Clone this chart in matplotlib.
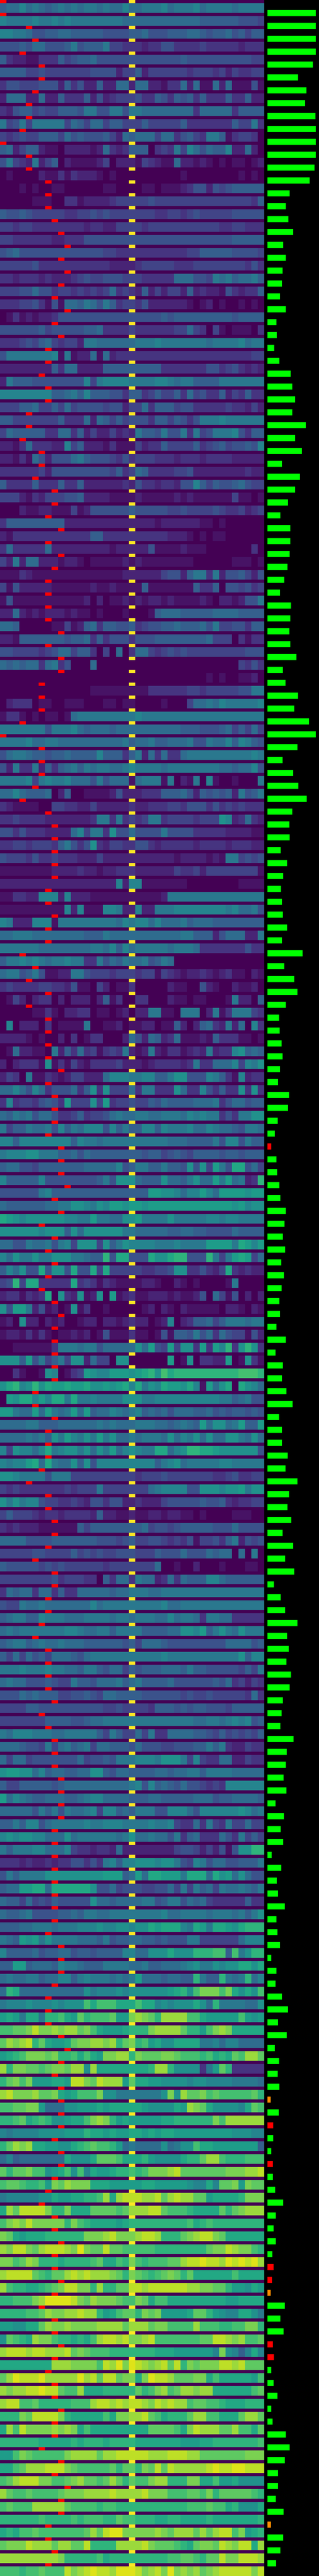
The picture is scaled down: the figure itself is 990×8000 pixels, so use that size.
import numpy as np
import matplotlib
matplotlib.use("Agg")
import matplotlib.pyplot as plt
from matplotlib.colors import ListedColormap

# one character per cell, base 36, level / 20 gives the 0..1 viridis value
heat_rows = [
    "6779787678 7878878779 7788897888 9788887888 8",
    "9888898898 9888888887 7777777777 7666666555 4",
    "9988755667 7666665555 6675556667 7656675646 6",
    "5556577555 6856668443 3323355333 3433333233 3",
    "6322113336 4566755555 5555555565 5555555554 4",
    "6666445444 4444555524 4624444443 4443424334 4",
    "3554445552 6352262277 2772213372 7117271115 1",
    "2777227226 3336252344 4533653656 3633363362 2",
    "3256645446 6658855885 8877777777 3777773666 6",
    "8458488888 4764774664 4464444463 3333336448 3",
    "4345446664 7565556427 6777477356 4388613443 0",
    "6724662110 2222127323 6660343849 7576692272 0",
    "5843282460 2111124022 2143211722 1210101101 2",
    "0100002113 1322210100 0000000010 0000000101 0",
    "0001010011 0000001100 0011011123 5525456666 6",
    "0000011100 3312222344 4445444444 4444444443 6",
    "6556544444 3344545444 4444334434 5444445555 5",
    "4434433333 3332332244 4434444444 4444334433 3",
    "4433333322 3335555555 5555555555 5555556666 6",
    "5675555555 5555554433 3333333334 4666665555 4",
    "4444453333 3333333222 2344444333 4444444435 3",
    "3323332322 2345445554 4433333777 5548786778 6",
    "4445575534 4343434734 3262424426 2322153233 6",
    "3334453151 7768758634 4352222221 0120100101 0",
    "0131212235 5555555555 5555565666 6666665666 6",
    "5555556455 5556673333 4333333447 4304101110 3",
    "3334546743 4428877777 7888988888 8878888978 8",
    "5888888891 8122717233 3333333333 3333333334 4",
    "2222222263 7722226666 6666633333 3355345323 2",
    "2866655555 5559489999 8888998788 6666888888 8",
    "9999999966 7869666553 6634644637 4533624363 3",
    "4446674464 7455554552 4473666455 3333343324 2",
    "6644444446 3337276464 5553664653 5888988888 8",
    "4766666337 7362422423 2866585583 8458889536 6",
    "2213733322 9462221311 1423364444 6345645565 9",
    "2213175255 5786555435 3444333233 3233332222 2",
    "3333334255 5555555463 4763333445 2222222232 2",
    "6333363336 3362222223 2533233255 9646556754 4",
    "4442132444 5562222111 1211111212 1111114110 1",
    "0002112211 1412555555 6555554454 4445433423 4",
    "3666666666 2222222222 2222122222 2110100000 0",
    "2133333333 3333663333 3333332221 0101100000 0",
    "3733333722 2222222122 2225111121 1100000003 0",
    "4282772221 2210111112 1211111111 0000001110 1",
    "1113211111 1111111112 2222245526 8838255642 5",
    "4152222211 1111211211 1161111111 6336055453 4",
    "1511111111 1112020112 1212212111 1210221255 8",
    "2272121222 1211010001 0001677766 6667777666 6",
    "7760000011 4126736655 6345566766 6758445536 6",
    "2216666666 5667363555 3555666666 6674440313 3",
    "5544443457 7466304070 3774345454 4444444455 5",
    "7676773783 5000700000 0000000000 0000000435 3",
    "0000000000 0000000000 0000000000 0010100112 0",
    "0000000000 0000111111 1113333334 4344444558 8",
    "0233301100 1110001101 1000010004 7787988888 9",
    "1331010110 1788888888 8988888888 8888888888 8",
    "8888888588 8976777677 7777777766 6555674647 4",
    "8888977887 7777777778 6778667778 5587796986 5",
    "5788766566 7666696663 6827373378 8888888889 8",
    "5283382636 7868788778 9888878888 8888776779 5",
    "8888948988 9777585777 1788818021 8091001000 8",
    "7797666702 6001111252 2233366675 2656562856 8",
    "3211110044 3322422222 3223334435 5535343433 3",
    "3343333222 2222388383 4348834444 3444a92373 2",
    "5535333222 2794883a55 7555585555 3333322221 1",
    "3344344436 8535a32443 3553233333 2333323332 2",
    "5444353343 3322242222 2222222122 2212188454 5",
    "1111111122 2232212233 3222222433 4244444444 1",
    "2222222222 2222222292 9911111110 0000000111 1",
    "1133229992 9222111111 1111128888 8888888888 8",
    "1111111111 9291119982 2922888999 9999989778 5",
    "9822299918 8888888879 8997977786 7776666666 6",
    "7788877777 7776668777 7777777788 6662577722 8",
    "8888887777 7777887969 7888887888 7333333353 3",
    "6889898788 9883385768 7785687000 0000000000 0",
    "7885685112 2885444344 4344143212 2321231102 1",
    "3433334433 2511042011 3000002110 0521002112 0",
    "0142023302 0222026130 0330002110 1100018220 6",
    "0000011310 2233011012 0228811088 8028138884 3",
    "0902220301 1118001120 1122011620 2673282709 3",
    "2222101002 0301330002 7527623711 1216333110 1",
    "0172211082 6373413438 2128213312 3282339a67 6",
    "2023331a13 1421333342 2212333323 8337779498 a",
    "2430811321 2442227999 8899668aa5 55986319 23",
    "7797597355 5736a3a444 7388333a73 3953633a3a 3",
    "39344356 53b44 4a4b344 5446576666 7778357756 6",
    "7687 85775 3346344578 7788778887 9898835388 a",
    "8466877859 6879995968 669 9698889 7798776 5887 7",
    "9969999999 9698878888 8888887776 6668599586 6",
    "89 99aa8886 6757666666 6656645654 6666566566 6",
    "6775546666 6667777795 6886686 65a 5a4b85cc57 4",
    "9666669555 5555568 5aa a766 6a77 68a77b8b7 8 23 d",
    "5555558966 666666 6666 666bbaa979 9b97bbbba b b",
    "7666666778 8aa98a9bba bbabbbbbbb bbbbbbab9a a a",
    "cba9aa aaaa 9988b88 77aa b8888a8888 8998998888 a",
    "aaaaaa9aaa 6a7aaaaaa8 8777776677 6655557666 6",
    "7755877858 94aaa4a68a 9999888988 88bbbb8cb9 b",
    "97a88a88aa a88766d5cc 555caacdd5 55d848bcb4 7",
    "697a55c5aa 5c55c4c444 4433445aa33 5324c32322 3",
    "45d4cc3333 3c34313211 1122100210 1000018000 0",
    "2331323c0a 32a12a0b12 3112221211 2507415020 2",
    "a5bb825120 1a13001000 0012021021 1111022102 1",
    "120a220212 0012202212 3220129023 6674688878 8",
    "1221313101 1212015111 3110151665 8573754415 2",
    "0011111138 8878857777 7a7b54b4aa 3b3b9d3ada 3",
    "aaa6b58468 4aa274 4 0aa 000000b01a 0332 2b01a3 1",
    "0031001a90 134ba99bbb abcdaecddd dddddddeee d",
    "acd9ada cbb cbbcaabab c9c8a9cbba c 91 b7ac0ca9 7",
    "0bacc9b9cc 8c8898888a aa889 9999 99 9998867855 8",
    "bb877b7b87 8b7b677987 8967675777 6675656656 5",
    "7777886667 7777787877 7888776787 6b7aa78b66 b",
    "7777878 6a8 b98a8b8a77 8788 87a798 a7a77aa87a 7",
    "94a9979 c89a a8a7a8b79a 988cc79add ccbaaaaaa5 4",
    "9899bc7c87 7a6a599999 9999689a78 8888998888 8",
    "aa98888588 8444444444 4344454444 4443345334 4",
    "4343333333 4344484444 4447899995 5aaa9aab8a a",
    "a8a8995443 3432553552 2322245555 5655632334 4",
    "4644432332 3333262211 2112212211 0100001110 0",
    "3232221111 1164666666 6674554566 6665557555 5",
    "7777555566 6666655545 6445543435 1445368254 5",
    "4444455444 4645454455 5444655575 5576770708 0",
    "6555554545 4444443444 4444700100 2000100011 0",
    "4444444453 4443306377 3877237376 6699766666 6",
    "3767737736 3377777677 8887788888 8888888888 8",
    "5448778777 7777978888 8888897788 8888888888 8",
    "6788669888 7778888788 7888779788 7388773333 3",
    "7878888888 9987788688 8866667 7aa 9b68a8 7a8 8",
    "6788678778 7776666665 6477765555 5555577775 6",
    "6474756477 7657888888 8888898888 8888888a69 9",
    "8889888988 7768865774 6566677768 6655555464 8",
    "7877555654 4866577786 7866667555 5556573424 3",
    "5557676664 4556547766 6655555545 4454444437 3",
    "4444665555 5555554454 4443666565 6655546666 6",
    "4444444666 6556778888 8888888888 7788789895 6",
    "8799988877 8888864864 4748337777 6654645454 6",
    "7776554847 8678477666 5755544555 6686832243 3",
    "7477455555 5574556588 8999 8aaa8 49 433772 24 33 3",
    "abbaa79677 6677aa6577 6666776778 8688887777 7",
    "6446666656 7777777777 8959676575 543439999 9 9",
    "b798766777 6678997777 6667766666 7775667777 6",
    "7777758685 8778949967 6888559997 5999999a97 8",
    "6686995788 8889889998 8889889 433 73 843 8447443 6",
    "9a9aa99777 a788888878 a778775836 7333753846 4",
    "8688899777 9433233272 2222222455 4242515aaddd 2",
    "3332322323 3553538969 9aaa9aa854 9857755666 8",
    "5868888aaa aaaaaabbb6 7b7ccbbb8c cc7cab7a75 5 5",
    "677bbcc7cc cccca55745 5544557484 8674877876 8",
    "7664745465 5555a77677 7788568857 6743333363 3",
    "7667855556 6768877888 8888897788 8878887868a 7",
    "6667788878 8899 9a99aa 9aac bccc98 cb8ccbacdd d",
    "876bab8a88 8877768566 7766565558 8444444799 9",
    "9666675667 7566566669 977aaaca aa dddee6e8ad d",
    "66bb677769 8876668888 7786677789 a 88a 9a ac ca cb",
    "78778867 79 9689888787 8b77 76776 6d86 6d878d79",
    "7dc7777777 777a899 9a9 aaaaaabcda eggge gcaca e",
    "8999a9 99a9 aaae cee eccc ecc9a9 aaac a7d88 8877 a",
    "bcb8cc8dde cbfdeeefbb ghgfdhhhhe ecbbbbbeba b",
    "eeffgigghg hhfgecbbbc dddgh hhhfd db egh gcc cc",
    "fhghidfcbb cfgghhghdf gdeb caacccc 889799 7777 7",
    "bcdeggg fgd dececbggh hdgfffg gfeeedecdc fehhfdc g",
    "hdggffefgg fhhahccccc cccdhhdaaa a38bfd3333 3",
    "dfgegbbbcc biigfihhhb fccbbaaaa9 aa99998888 7",
    "higgghffgc bceeegaa88 88888agahf fgefeeeeef d",
    "eeffggb777 aabbbcbccc ccbaaaacb hg fcaaaa9cfe e",
    "ddefcded aa bccegh gdbc bbbbbccddd dddgehhhhh hh",
    "9899 99aaaa bbbdccbcbb ccbcbccbbb bbbbbbaaa9 9",
    "dfhghccbba acdefeedb7 87777a78aa ecc bbbbbbb6 9",
    "7967777777 caaacfffec ccdbaaaacd dfhhedddee e",
    "fdffgeeabc eae9cbbcdd edeggghifff ffffggg hhi i",
    "effedd ebgf hgggccc bbb bbccbbbbba 99c9ffgbgf f",
    "8999 99aacb bccddehchi iihhifhihh ffbccccdgg g",
    "chfiiiigdd gcccffffef hhhiifeeed ccccfdfghh h",
    "eghgigggg g dgedccccbc dddddddddec deddddddd d",
    "gfcbcccddd dddggghigg ghiihdddfg hiigfccccc c",
    "hgiigfhiii hgjgffiffe eeeeddddd dd dfggih gge d",
    "ggefhgdddc ddddefcced gedeeeffhi ijiihjiji j h",
    "hiiiifedff hihihhhgfd gfedefgfdf ccccccecc c c",
    "heddccdefg iiggdhd dffi ihiiiiiihh ggffdbbacb b",
    "ddeeeghjjj jigfhgggfe egfceecccc cccccbbccc c",
    "ddddeefhgg hhihhdbcef fdgfgbbbbc ffdba99cca 8",
    "bbaaccfhgg hgggghhhhf hhhfggeeee heeeddeegg d",
    "afedchgged dcdcehiihi gghieeeeee effiihgh ee f",
    "hiiihiihhh ifgfeeeddd ddddcccbbb bbb9ga969c 9",
    "cccccccchh hggggeihjg jihghifidg fgggiihiff f",
    "fhjiiijhhh hhjhifiifg gcgjiihfff ggcecccccb e",
    "hghhiijiif eehcccdddd dfdeghefhh ghhcccccce f",
    "hiieefdddd deeehiihih iihgihihhe ffeedcccdd d",
    "dddgfiiiig dcccccecgg hhifecdddf hheecccfhh f",
    "cheigggghg hgcecccccc cccffffecg ihhhffheec f",
    "ddddddcccc cdcdddcddd dcccccccbb bccddddddde c",
    "bbegfeeeee ghhhhfhhii iiihhhiiih hfffffffgg g",
    "ccefhhhiii gfeeeeefdf fdgfifihhh hhijiijjii i",
    "efhiiiggee fghffefhfd feeghhdddg gcceb bcaaaa a",
    "hfeefeeeef ggghhhhihh hhiggge eef fegdfffffe d",
    "efeeehhhhh feeeedeedd dddddddd de eefeecdaaa c",
    "dddddde ddd dedeeeddfe edddccddcc ccdcccccc c d",
    "cdceefeeee eeefhfijjg gggghgfhhh fhfhiiegbc d",
    "fgggihhhfh hffiddddhh hhigfffedc fggfihgiic h",
    "hhhhhhhhhg dddddecddd ddddddeeff edffiggiii h",
    "eeedeefeee ighijiihjj jighigjghg hfghiiiiig i",
]

# column of the red marker in the thin strip above each row
marker_cols = [
    0, 0, 4, 5, 3, 6, 6, 5, 4, 4, 3, 0, 4, 4, 7, 7, 7, 8, 9, 10, 9, 10, 9, 8, 10,
    8, 9, 7, 7, 6, 7, 7, 4, 4, 3, 6, 6, 5, 8, 8, 7, 9, 7, 9, 8, 7, 7, 7, 7, 9,
    7, 9, 9, 6, 6, 6, 3, 0, 6, 6, 6, 5, 3, 7, 8, 8, 8, 8, 8, 7, 7, 8, 7, 7, 3,
    5, 4, 7, 4, 7, 7, 7, 7, 9, 7, 8, 8, 8, 7, 9, 9, 9, 10, 8, 9, 6, 8, 7, 8, 7,
    6, 8, 9, 8, 8, 8, 8, 8, 5, 5, 8, 7, 7, 7, 6, 4, 7, 7, 8, 8, 7, 5, 8, 8, 7,
    7, 6, 5, 7, 7, 7, 7, 8, 6, 7, 8, 8, 8, 9, 9, 9, 9, 8, 8, 8, 8, 8, 8, 8, 8,
    7, 9, 9, 9, 8, 7, 7, 7, 9, 10, 9, 8, 9, 9, 9, 9, 8, 9, 9, 8, 7, 6, 8, 8, 9,
    8, 8, 9, 8, 6, 8, 8, 9, 8, 7, 8, 8, 9, 8, 8, 6, 9, 8, 10, 9, 9, 7, 7, 8, 7,
]
yellow_col = 20

# bars on the right, 199 of them
bar_widths = [
    150, 150, 150, 150, 141, 95, 121, 117, 149, 150, 150, 150, 146, 131, 69, 57, 65, 80, 49, 57, 47, 45, 39, 57, 28,
    29, 21, 37, 72, 77, 86, 77, 119, 86, 107, 45, 101, 86, 64, 40, 71, 71, 69, 62, 52, 39, 73, 71, 68, 71,
    90, 48, 56, 95, 83, 129, 150, 93, 47, 80, 96, 122, 77, 68, 69, 41, 61, 49, 42, 45, 48, 61, 45, 109, 52,
    83, 93, 57, 36, 38, 44, 47, 39, 33, 67, 64, 32, 23, 12, 28, 30, 37, 40, 57, 53, 48, 55, 43, 51, 44,
    37, 39, 28, 57, 25, 48, 45, 59, 78, 36, 45, 45, 63, 56, 93, 67, 62, 74, 47, 80, 55, 83, 20, 41, 55,
    93, 61, 66, 59, 73, 69, 48, 44, 40, 81, 60, 57, 50, 59, 25, 51, 41, 49, 13, 43, 29, 33, 54, 28, 31,
    39, 12, 28, 25, 45, 64, 33, 60, 23, 36, 32, 37, 10, 35, 18, 18, 12, 17, 17, 24, 49, 26, 19, 26, 15,
    19, 14, 10, 54, 40, 50, 17, 20, 12, 19, 31, 12, 16, 57, 69, 54, 33, 33, 26, 50, 11, 49, 40, 27,
]
red_bars = [88, 164, 167, 175, 176, 181, 182]
orange_bars = [162, 177, 195]

n_rows = len(heat_rows)
n_cols = 41

heat = []
for row in heat_rows:
    chars = row.replace(" ", "").ljust(n_cols, row[-1])[:n_cols]
    heat.append([int(c, 36) / 20 for c in chars])
heat = np.array(heat)

# every row is a thin strip (1/4) then the heat cells (3/4)
grid = np.zeros((n_rows * 2, n_cols))
grid[1::2] = heat
grid[0::2, yellow_col] = 1.0

marks = np.ma.masked_all((n_rows * 2, n_cols))
for i, c in enumerate(marker_cols):
    marks[i * 2, c] = 1

y_edges = np.ravel([[i, i + 0.25] for i in range(n_rows)])
y_edges = np.append(y_edges, n_rows)
x_edges = np.arange(n_cols + 1)

fig = plt.figure(figsize=(9.9, 80), dpi=100, facecolor="black")

ax = fig.add_axes([0, 0, 820 / 990, 1])
ax.pcolormesh(x_edges, y_edges, grid, cmap="viridis", vmin=0, vmax=1, antialiased=False)
ax.pcolormesh(x_edges, y_edges, marks, cmap=ListedColormap(["#ff0000"]), vmin=0, vmax=1, antialiased=False)
ax.set_xlim(0, n_cols)
ax.set_ylim(n_rows, 0)
ax.axis("off")

bar_colors = []
for i in range(len(bar_widths)):
    if i in red_bars:
        bar_colors.append("#ff0000")
    elif i in orange_bars:
        bar_colors.append("#ff8c00")
    else:
        bar_colors.append("#00ff00")

ax2 = fig.add_axes([830 / 990, 0, 150 / 990, 1])
ax2.barh(np.arange(len(bar_widths)) + 31 / 40, bar_widths, height=19 / 40, align="edge", color=bar_colors, linewidth=0)
ax2.set_xlim(0, 150)
ax2.set_ylim(n_rows, 0)
ax2.axis("off")

fig.savefig("out.png", dpi=100, facecolor="black")
